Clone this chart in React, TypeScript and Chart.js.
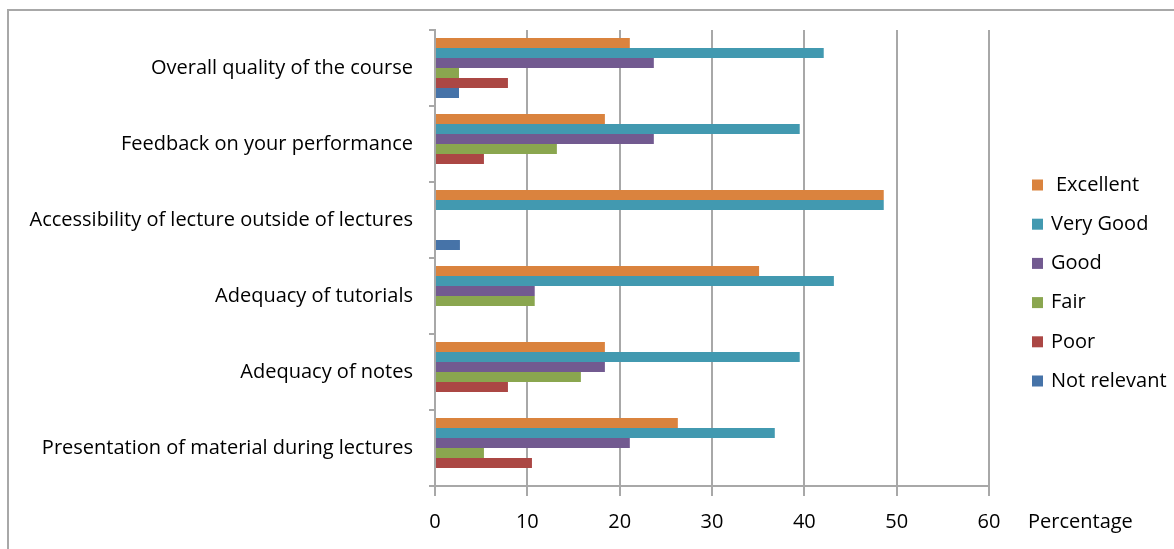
import React, { useEffect, useRef } from "react";
import { Chart, registerables } from "chart.js";

Chart.register(...registerables);

const categories = [
  "Overall quality of the course",
  "Feedback on your performance",
  "Accessibility of lecture outside of lectures",
  "Adequacy of tutorials",
  "Adequacy of notes",
  "Presentation of material during lectures",
];

const seriesNames = ["Excellent", "Very Good", "Good", "Fair", "Poor", "Not relevant"];

const excellent = [21.1, 18.4, 48.6, 35.1, 18.4, 26.3];
const veryGood = [42.1, 39.5, 48.6, 43.2, 39.5, 36.8];
const good = [23.7, 23.7, null, 10.8, 18.4, 21.1];
const fair = [2.6, 13.2, null, 10.8, 15.8, 5.3];
const poor = [7.9, 5.3, null, null, 7.9, 10.5];
const notRelevant = [2.6, null, 2.7, null, null, null];

const xMin = 0;
const xMax = 60;
const xStep = 10;
const xTitle = "Percentage";

const seriesColors = ["#DA833E", "#4299B0", "#725A90", "#8AA64F", "#AB4744", "#4673A8"];

const FONT = "'Open Sans', 'Noto Sans', sans-serif";
const FSIZE = 20;

const legendPlugin = {
  id: "sideLegend",
  afterDraw(chart: any) {
    const { ctx, chartArea } = chart;
    ctx.save();
    ctx.font = `${FSIZE}px ${FONT}`;
    ctx.textBaseline = "middle";
    ctx.textAlign = "left";
    const x0 = chartArea.right + 43;
    const y0 = chartArea.top + 155;
    const step = 39.2;
    chart.data.datasets.forEach((ds: any, i: number) => {
      const cy = y0 + i * step;
      ctx.fillStyle = ds.backgroundColor;
      ctx.fillRect(x0, cy - 5.5, 11, 11);
      ctx.fillStyle = "#000";
      ctx.fillText(ds.label, x0 + (i === 0 ? 24 : 19), cy);
    });
    const xs = chart.scales.x;
    ctx.fillText(xTitle, chartArea.right + 39, xs.top + 36);
    ctx.restore();
  },
};

export default function App() {
  const ref = useRef<HTMLCanvasElement | null>(null);

  useEffect(() => {
    if (!ref.current) return;
    const values = [excellent, veryGood, good, fair, poor, notRelevant];
    const chart = new Chart(ref.current, {
      type: "bar",
      data: {
        labels: categories,
        datasets: seriesNames.map((name, i) => ({
          label: name,
          data: values[i] as any,
          backgroundColor: seriesColors[i],
          borderWidth: 0,
          categoryPercentage: 0.79,
          barPercentage: 1.0,
        })),
      },
      options: {
        indexAxis: "y",
        responsive: false,
        animation: false,
        layout: { padding: { left: 0, right: 185, top: 30, bottom: 0 } },
        plugins: {
          legend: { display: false },
          tooltip: { enabled: false },
          title: { display: false },
        },
        scales: {
          x: {
            min: xMin,
            max: xMax,
            ticks: {
              stepSize: xStep,
              color: "#000",
              font: { family: FONT, size: FSIZE },
              padding: 14,
            },
            grid: {
              color: "#a8a8a8",
              lineWidth: 2,
              tickLength: 10,
              drawTicks: true,
            },
            border: { color: "#a8a8a8", width: 2 },
            afterFit: (s: any) => {
              s.height = 63;
            },
          },
          y: {
            ticks: {
              color: "#000",
              font: { family: FONT, size: FSIZE },
              padding: 16,
            },
            grid: {
              drawOnChartArea: false,
              tickLength: 6,
              color: "#a8a8a8",
              lineWidth: 2,
              offset: true,
            },
            border: { color: "#a8a8a8", width: 2 },
            afterFit: (s: any) => {
              s.width = 435;
            },
          },
        },
      },
      plugins: [legendPlugin],
    });
    return () => chart.destroy();
  }, []);

  return (
    <div
      style={{
        position: "absolute",
        left: 0,
        top: 0,
        width: 1174,
        height: 549,
        overflow: "hidden",
        background: "#fff",
      }}
    >
      <div
        style={{
          position: "absolute",
          left: 7,
          top: 9,
          width: 1300,
          height: 700,
          borderLeft: "2px solid #a8a8a8",
          borderTop: "2px solid #a8a8a8",
        }}
      />
      <canvas
        ref={ref}
        width={1174}
        height={549}
        style={{ position: "absolute", left: 0, top: 0, display: "block" }}
      />
    </div>
  );
}
